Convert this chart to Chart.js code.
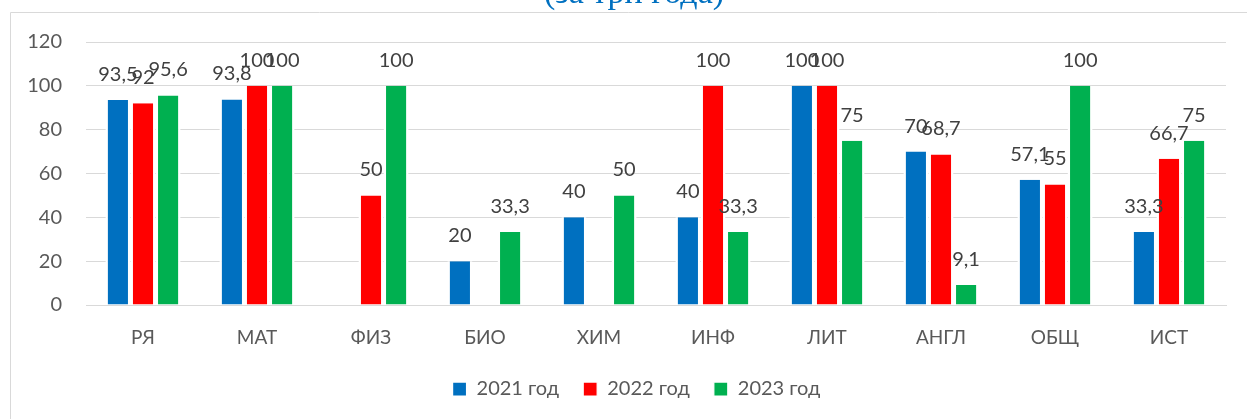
<!DOCTYPE html>
<html>
<head>
<meta charset="utf-8">
<script src="https://cdn.jsdelivr.net/npm/chart.js@4"></script>
<style>
    html, body { margin: 0; padding: 0; background: #fff; }
    #wrap { position: relative; width: 1247px; height: 419px; }
</style>
</head>
<body>
<div id="wrap"><canvas id="chart" width="1247" height="419"></canvas></div>
<script>
// subjects and results (%), null = no bar
const subjects = ["РЯ", "МАТ", "ФИЗ", "БИО", "ХИМ", "ИНФ", "ЛИТ", "АНГЛ", "ОБЩ", "ИСТ"];
const years = ["2021 год", "2022 год", "2023 год"];
const values2021 = [93.5, 93.8, null, 20, 40, 40, 100, 70, 57.1, 33.3];
const values2022 = [92, 100, 50, null, null, 100, 100, 68.7, 55, 66.7];
const values2023 = [95.6, 100, 100, 33.3, 50, 33.3, 75, 9.1, 100, 75];
const yTicks = [0, 20, 40, 60, 80, 100, 120];
const colors = ["#0070C0", "#FF0000", "#00B050"];
const titleText = "(за три года)";

const seriesValues = [values2021, values2022, values2023];

// frame + cut-off title at the top, legend nudged to the right
const framePlugin = {
    id: "frame",
    afterLayout(chart) {
        if (chart.legend) {
            chart.legend.left += 18;
            chart.legend.right += 18;
        }
    },
    beforeDraw(chart) {
        const ctx = chart.ctx;
        ctx.save();
        ctx.strokeStyle = "#d9d9d9";
        ctx.lineWidth = 1;
        ctx.beginPath();
        ctx.moveTo(10.5, 419);
        ctx.lineTo(10.5, 12.5);
        ctx.lineTo(1247, 12.5);
        ctx.stroke();
        ctx.fillStyle = "#0070C0";
        ctx.font = "34px 'Liberation Serif'";
        ctx.textAlign = "center";
        ctx.textBaseline = "alphabetic";
        ctx.fillText(titleText, 634, 3);
        ctx.restore();
    }
};

// value labels over the bars
const valueLabels = {
    id: "valueLabels",
    afterDatasetsDraw(chart) {
        const ctx = chart.ctx;
        ctx.save();
        ctx.font = "20px Lato";
        ctx.fillStyle = "#404040";
        ctx.textAlign = "center";
        ctx.textBaseline = "alphabetic";
        chart.data.datasets.forEach((ds, i) => {
            const meta = chart.getDatasetMeta(i);
            meta.data.forEach((bar, j) => {
                const v = ds.data[j];
                if (v === null) return;
                ctx.fillText(String(v).replace(".", ","), bar.x, bar.y - 19);
            });
        });
        ctx.restore();
    }
};

new Chart(document.getElementById("chart"), {
    type: "bar",
    data: {
        labels: subjects,
        datasets: years.map((y, i) => ({
            label: y,
            data: seriesValues[i],
            backgroundColor: colors[i],
            borderColor: "#ffffff",
            borderWidth: {left: 2.5, right: 2.5, top: 0, bottom: 0},
            borderSkipped: "start",
            barPercentage: 1,
            categoryPercentage: 0.66
        }))
    },
    options: {
        responsive: false,
        animation: false,
        layout: {padding: {left: 11, right: 21, top: 42, bottom: 10}},
        plugins: {
            title: {display: false},
            tooltip: {enabled: false},
            legend: {
                position: "bottom",
                labels: {
                    font: {family: "Lato", size: 20},
                    color: "#595959",
                    boxWidth: 14,
                    boxHeight: 14,
                    padding: 24
                }
            }
        },
        scales: {
            x: {
                grid: {display: false, drawTicks: false},
                border: {color: "#d9d9d9"},
                ticks: {font: {family: "Lato", size: 19}, color: "#595959", padding: 21},
                afterFit(scale) { scale.height = 50; }
            },
            y: {
                min: 0,
                max: 120,
                afterBuildTicks(scale) { scale.ticks = yTicks.map(v => ({value: v})); },
                grid: {color: "#d9d9d9", drawTicks: false},
                border: {display: false},
                ticks: {font: {family: "Lato", size: 20}, color: "#595959", padding: 24},
                afterFit(scale) { scale.width = 75; }
            }
        }
    },
    plugins: [framePlugin, valueLabels]
});
</script>
</body>
</html>
